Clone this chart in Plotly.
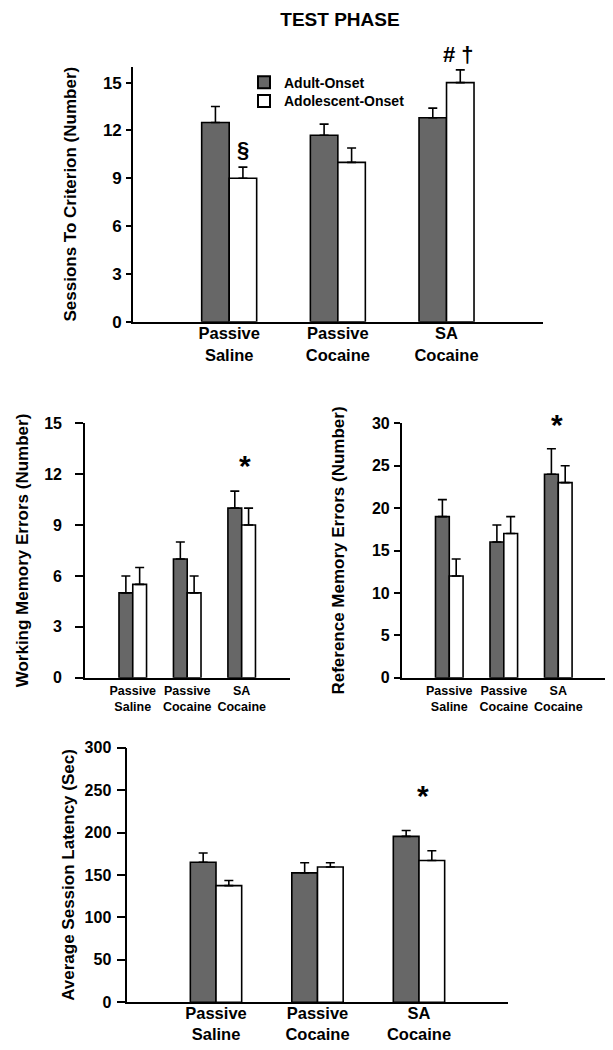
import plotly.graph_objects as go

categories = ["Passive<br>Saline", "Passive<br>Cocaine", "SA<br>Cocaine"]
series_names = ["Adult-Onset", "Adolescent-Onset"]

# Sessions to criterion
sess_adult = [12.5, 11.7, 12.8]
sess_adult_err = [1.0, 0.7, 0.6]
sess_adol = [9.0, 10.0, 15.0]
sess_adol_err = [0.7, 0.9, 0.8]

# Working memory errors
wm_adult = [5.0, 7.0, 10.0]
wm_adult_err = [1.0, 1.0, 1.0]
wm_adol = [5.5, 5.0, 9.0]
wm_adol_err = [1.0, 1.0, 1.0]

# Reference memory errors
rm_adult = [19.0, 16.0, 24.0]
rm_adult_err = [2.0, 2.0, 3.0]
rm_adol = [12.0, 17.0, 23.0]
rm_adol_err = [2.0, 2.0, 2.0]

# Average session latency
lat_adult = [165.0, 152.5, 195.5]
lat_adult_err = [11.0, 12.0, 7.0]
lat_adol = [137.5, 159.5, 167.0]
lat_adol_err = [6.0, 5.0, 11.5]

sess_ticks = [0, 3, 6, 9, 12, 15]
wm_ticks = [0, 3, 6, 9, 12, 15]
rm_ticks = [0, 5, 10, 15, 20, 25, 30]
lat_ticks = [0, 50, 100, 150, 200, 250, 300]

GRAY = "#676767"
FONT = "Liberation Sans, Arial, Helvetica, sans-serif"

W, H = 613, 1050
OFF = 8  # page body margin


def px(x):
    return (x - OFF) / W


def py(y):
    return 1 - (y - OFF) / H


fig = go.Figure()

panels = [
    ("x", "y", sess_adult, sess_adult_err, sess_adol, sess_adol_err, True),
    ("x2", "y2", wm_adult, wm_adult_err, wm_adol, wm_adol_err, False),
    ("x3", "y3", rm_adult, rm_adult_err, rm_adol, rm_adol_err, False),
    ("x4", "y4", lat_adult, lat_adult_err, lat_adol, lat_adol_err, False),
]

for xa, ya, a, ae, b, be, show in panels:
    for vals, errs, color, name, lg in [(a, ae, GRAY, series_names[0], "legend"),
                                        (b, be, "white", series_names[1], "legend2")]:
        fig.add_trace(go.Bar(
            x=categories, y=vals, name=name, xaxis=xa, yaxis=ya,
            marker=dict(color=color, line=dict(color="black", width=1.6)),
            error_y=dict(type="data", symmetric=False, array=errs,
                         arrayminus=[0] * len(errs), color="black",
                         thickness=1.6, width=4.5),
            showlegend=show, legend=lg,
        ))


def yaxis_common(rng, ticks, title, size, standoff, ticklen, labstand):
    return dict(range=rng, tickvals=ticks, showgrid=False, zeroline=False,
                showline=True, linecolor="black", linewidth=1.6, automargin=False,
                ticks="outside", ticklen=ticklen, tickwidth=1.6, tickcolor="black",
                ticklabelstandoff=labstand,
                tickfont=dict(size=size, family=FONT, color="black", weight="bold"),
                title=dict(text=title, font=dict(size=17, family=FONT, color="black", weight="bold"),
                           standoff=standoff),
                fixedrange=True)


def xaxis_common(domain, size, rng, anchor, labstand):
    return dict(domain=domain, range=rng, type="category", showgrid=False,
                zeroline=False, showline=True, linecolor="black", linewidth=1.6,
                ticks="", anchor=anchor, automargin=False, ticklabelstandoff=labstand,
                tickfont=dict(size=size, family=FONT, color="black", weight="bold"),
                fixedrange=True)


legend_font = dict(size=14, family=FONT, color="black", weight="bold")

fig.update_layout(
    template="none",
    width=W, height=H,
    margin=dict(l=0, r=0, t=0, b=0, pad=0),
    paper_bgcolor="white", plot_bgcolor="white",
    font=dict(family=FONT, color="black", weight="bold"),
    barmode="group", bargap=0.494, bargroupgap=0,
    title=dict(text="TEST PHASE", x=px(340), xanchor="center", y=py(19.5), yanchor="middle",
               automargin=False,
               font=dict(size=19, family=FONT, color="black", weight="bold")),
    legend=dict(x=px(284) - 40 / W, y=py(82.7), xanchor="left", yanchor="middle",
                bgcolor="rgba(0,0,0,0)", font=legend_font, itemsizing="constant"),
    legend2=dict(x=px(284) - 40 / W, y=py(101.3), xanchor="left", yanchor="middle",
                 bgcolor="rgba(0,0,0,0)", font=legend_font, itemsizing="constant"),
    xaxis=xaxis_common([px(133), px(542.7)], 16.5, [-0.885, 2.885], "y", -4),
    yaxis=dict(domain=[py(321.7), py(66.7)], anchor="x",
               **yaxis_common([0, 16], sess_ticks, "Sessions To Criterion (Number)", 17, 22, 5, 1)),
    xaxis2=xaxis_common([px(85), px(290)], 12.5, [-0.877, 2.887], "y2", 0),
    yaxis2=dict(domain=[py(677.7), py(423.3)], anchor="x2",
                **yaxis_common([0, 15], wm_ticks, "Working Memory Errors (Number)", 16, 11, 8, 10)),
    xaxis3=xaxis_common([px(401.7), px(605)], 12.5, [-0.873, 2.857], "y3", 0),
    yaxis3=dict(domain=[py(677.7), py(423.3)], anchor="x3",
                **yaxis_common([0, 30], rm_ticks, "Reference Memory Errors (Number)", 16, 23, 6, 1)),
    xaxis4=xaxis_common([px(127.3), px(508.3)], 16.5, [-0.874, 2.88], "y4", -5),
    yaxis4=dict(domain=[py(1002.3), py(747.7)], anchor="x4",
                **yaxis_common([0, 300], lat_ticks, "Average Session Latency (Sec)", 16, 6, 9, 2)),
)

ann_font = dict(family=FONT, color="black", weight="bold")
annotations = [
    dict(text="§", x=0.123, xref="x", y=10.8, yref="y", showarrow=False,
         font=dict(size=22, **ann_font)),
    dict(text="# †", x=2.11, xref="x", y=py(40), yref="paper", showarrow=False,
         font=dict(size=22, **ann_font)),
    dict(text="*", x=2.06, xref="x2", y=12.5, yref="y2", showarrow=False,
         font=dict(size=30, **ann_font)),
    dict(text="*", x=1.97, xref="x3", y=py(424), yref="paper", showarrow=False,
         font=dict(size=30, **ann_font)),
    dict(text="*", x=2.04, xref="x4", y=243.5, yref="y4", showarrow=False,
         font=dict(size=30, **ann_font)),
]
fig.update_layout(annotations=annotations)

fig.write_html("out.html")
